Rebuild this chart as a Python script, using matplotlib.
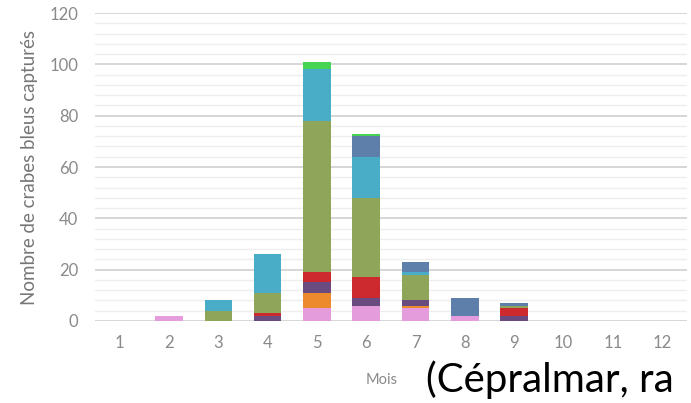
import matplotlib.pyplot as plt
from matplotlib.ticker import MultipleLocator

plt.rcParams['font.family'] = ['Lato', 'DejaVu Sans']

# mois et nombre de crabes par couche (du bas vers le haut)
mois = list(range(1, 13))
rose = [0, 2, 0, 0, 5, 6, 5, 2, 0, 0, 0, 0]
orange = [0, 0, 0, 0, 6, 0, 1, 0, 0, 0, 0, 0]
violet = [0, 0, 0, 2, 4, 3, 2, 0, 2, 0, 0, 0]
rouge = [0, 0, 0, 1, 4, 8, 0, 0, 3, 0, 0, 0]
olive = [0, 0, 4, 8, 59, 31, 10, 0, 1, 0, 0, 0]
cyan = [0, 0, 4, 15, 20, 16, 1, 0, 0, 0, 0, 0]
acier = [0, 0, 0, 0, 0, 8, 4, 7, 1, 0, 0, 0]
vert = [0, 0, 0, 0, 3, 1, 0, 0, 0, 0, 0, 0]

couches = [rose, orange, violet, rouge, olive, cyan, acier, vert]
couleurs = ['#E59CDD', '#EE8A2E', '#6A4B80', '#CC2A2E',
            '#8FA65A', '#4AADC8', '#5F7FAB', '#46D552']

fig = plt.figure(figsize=(6.91, 4.03), dpi=100)
ax = fig.add_axes([0.1375, 0.2035, 0.8565, 0.7642])

bas = [0] * 12
for valeurs, c in zip(couches, couleurs):
    ax.bar(mois, valeurs, bottom=bas, width=0.56, color=c, zorder=3)
    bas = [b + v for b, v in zip(bas, valeurs)]

ax.set_xlim(0.5, 12.5)
ax.set_ylim(0, 120)
ax.yaxis.set_major_locator(MultipleLocator(20))
ax.yaxis.set_minor_locator(MultipleLocator(4))
ax.set_xticks(mois)
ax.grid(axis='y', which='major', color='#D6D6D6', lw=1.4, zorder=0)
ax.grid(axis='y', which='minor', color='#EEEEEE', lw=1.0, zorder=0)
for s in ax.spines.values():
    s.set_visible(False)
ax.tick_params(axis='both', which='both', length=0, colors='#8A8A8A', labelsize=12)
ax.tick_params(axis='y', pad=12)
ax.tick_params(axis='x', pad=10)

fig.text(0.043, 0.585, 'Nombre de crabes bleus capturés', rotation=90,
         ha='center', va='center', fontsize=13.5, color='#767676')
fig.text(0.552, 0.058, 'Mois', ha='center', va='center', fontsize=10.5, color='#8A8A8A')
fig.text(0.616, 0.057, '(Cépralmar, ra', ha='left', va='center', fontsize=29, color='black')

fig.savefig('out.png', dpi=100)
